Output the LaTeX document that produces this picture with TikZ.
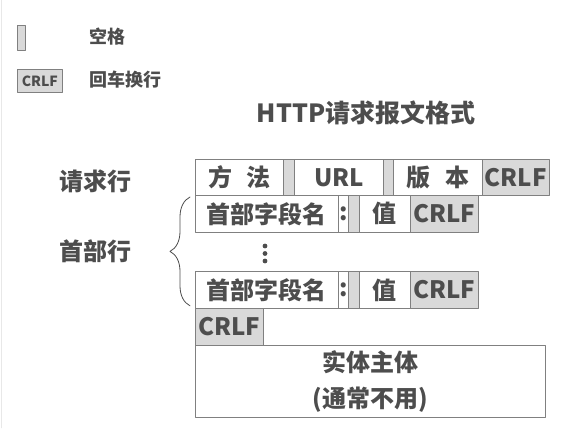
\documentclass[tikz,border=0pt]{standalone}
\usepackage{fontspec}
\setmainfont{Noto Sans CJK SC}
\usetikzlibrary{decorations.pathreplacing}
\definecolor{ink}{HTML}{4D4D4D}
\definecolor{frame}{HTML}{808080}
\definecolor{spacegray}{HTML}{D9D9D9}
\tikzset{
  every picture/.style={line cap=round, line join=round},
  % white field box, placed by its top left corner
  field/.style={draw=frame, fill=white, thick, inner sep=0pt, anchor=north west,
    text=ink, font=\fontsize{24}{28}\selectfont\bfseries},
  % gray filler: space or CRLF
  filler/.style={field, fill=spacegray},
  rowlabel/.style={text=ink, font=\fontsize{24}{28}\selectfont\bfseries},
  legend/.style={text=ink, anchor=west, font=\fontsize{18}{21}\selectfont\bfseries},
}
\begin{document}
\begin{tikzpicture}[x=1pt, y=-1pt]
  \useasboundingbox (0,0) rectangle (575,428);
  \draw[spacegray!60, thin] (1,0) -- (1,428);
  % ---------------- legend
  \node[filler, minimum width=8, minimum height=25] (keysp) at (17,25) {};
  \node[legend] (keysptxt) at (86,37) {空格};
  \node[filler, minimum width=45, minimum height=23,
    font=\fontsize{14}{16}\selectfont\bfseries] (keycrlf) at (17,69) {CRLF};
  \node[legend] (keycrlftxt) at (86,80) {回车换行};
  % ---------------- title and row labels
  \node[rowlabel, font=\fontsize{25}{29}\selectfont\bfseries] (title) at (366,113) {HTTP请求报文格式};
  \node[rowlabel] (reqlabel) at (95,181) {请求行};
  \node[rowlabel] (hdrlabel) at (95,251) {首部行};
  % ---------------- request line
  \node[field, minimum width=88, minimum height=36] (method) at (195,159) {方\hspace{0.6em}法};
  \node[filler, minimum width=11, minimum height=36] (sp1) at (283,159) {};
  \node[field, minimum width=89, minimum height=36] (url) at (294,159) {URL};
  \node[filler, minimum width=10, minimum height=36] (sp2) at (383,159) {};
  \node[field, minimum width=89, minimum height=36] (version) at (393,159) {版\hspace{0.6em}本};
  \node[filler, minimum width=67, minimum height=36] (crlf1) at (482,159) {CRLF};
  % ---------------- header lines
  \foreach \row/\y in {a/195, b/271} {
    \node[field, minimum width=143, minimum height=37] (name\row) at (195,\y) {首部字段名};
    \node[field, minimum width=10, minimum height=37] (colon\row) at (338,\y) {:};
    \node[filler, minimum width=11, minimum height=37] (sp\row) at (348,\y) {};
    \node[field, minimum width=51, minimum height=37] (value\row) at (359,\y) {值};
    \node[filler, minimum width=68, minimum height=37] (crlf\row) at (410,\y) {CRLF};
  }
  % vertical dots between the header lines
  \foreach \y in {246,253.5,261}
    \fill[ink] (265,\y) circle (2.4);
  % ---------------- empty line and body
  \node[filler, minimum width=68, minimum height=37] (crlfend) at (195,308) {CRLF};
  \node[field, minimum width=350, minimum height=72, align=center,
    font=\fontsize{24}{36}\selectfont\bfseries] (body) at (195,345) {实体主体\\(通常不用)};
  % brace over the header lines
  \draw[ink, thick, decorate, decoration={brace, amplitude=20pt}]
    ([xshift=-5pt, yshift=3pt]nameb.south west) -- ([xshift=-5pt, yshift=-2pt]namea.north west);
\end{tikzpicture}
\end{document}
